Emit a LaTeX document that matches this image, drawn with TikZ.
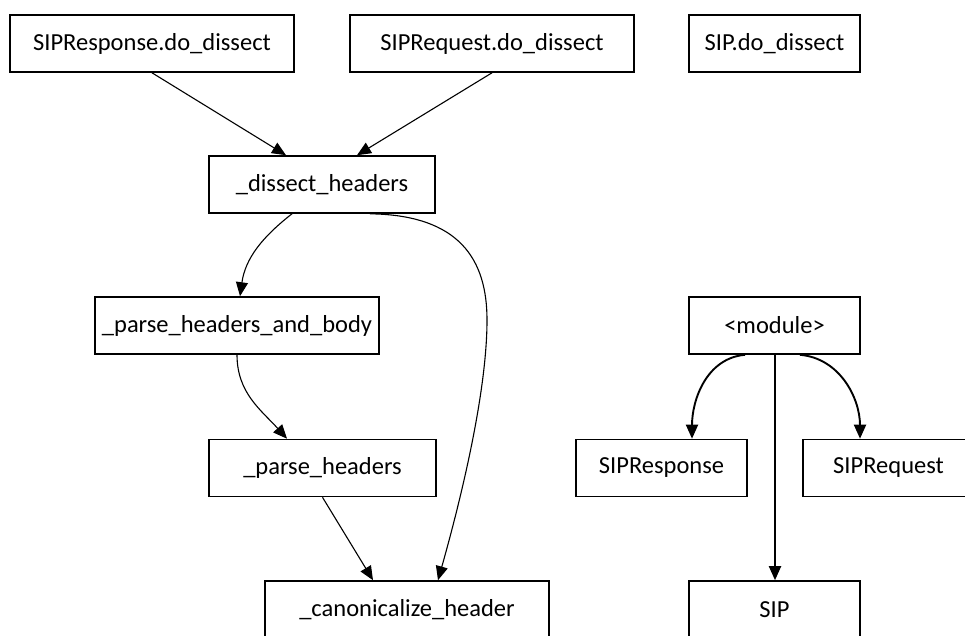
\documentclass[tikz,border=0pt]{standalone}
\usepackage{fontspec}
\setmainfont{Carlito}
\usetikzlibrary{arrows.meta,calc}

\begin{document}
\begin{tikzpicture}[x=1pt,y=-1pt,
  box/.style={draw,line width=1.6pt,rectangle,minimum height=57pt,inner sep=0pt,
              font=\fontsize{24.5}{29}\selectfont},
  edge/.style={line width=1.1pt,-{Triangle[length=14pt,width=12pt]}},
  modedge/.style={line width=1.9pt,-{Triangle[length=14pt,width=12pt]}}]
  \useasboundingbox (0,0) rectangle (965,635);

  % call graph nodes
  \node[box,minimum width=284pt] (srdo)  at (152,43.5)   {SIPResponse.do\_dissect};
  \node[box,minimum width=284pt] (sqdo)  at (492,43.5)   {SIPRequest.do\_dissect};
  \node[box,minimum width=171pt] (sipdo) at (774.5,43.5) {SIP.do\_dissect};
  \node[box,minimum width=226pt] (dh)    at (322,184.5)  {\_dissect\_headers};
  \node[box,minimum width=284pt] (phb)   at (237,325.5)  {\_parse\_headers\_and\_body};
  \node[box,minimum width=227pt] (ph)    at (322.5,468)  {\_parse\_headers};
  \node[box,minimum width=284pt] (ch)    at (407,609.5)  {\_canonicalize\_header};

  % module nodes
  \node[box,minimum width=171pt] (mod)   at (774.5,325.5) {<module>};
  \node[box,minimum width=171pt] (sresp) at (661.5,468)   {SIPResponse};
  \node[box,minimum width=171pt] (sreq)  at (888.5,468)   {SIPRequest};
  \node[box,minimum width=171pt] (sip)   at (774.5,609.5) {SIP};

  % call edges
  \draw[edge] (srdo.south) -- ([xshift=-36pt]dh.north);
  \draw[edge] (sqdo.south) -- ([xshift=35pt]dh.north);
  \draw[edge] ([xshift=-30pt]dh.south) to[out=218,in=82] ([xshift=3pt]phb.north);
  \draw[edge] ([xshift=48pt]dh.south)
      .. controls (460,215) and (487,260) .. (487,320)
      .. controls (487,400) and (455,520) .. ([xshift=31pt]ch.north);
  \draw[edge] (phb.south) to[out=-90,in=132] ([xshift=-35.5pt]ph.north);
  \draw[edge] (ph.south) -- ([xshift=-34pt]ch.north);

  % module edges
  \draw[modedge] ([xshift=-29.5pt]mod.south) to[out=185,in=90] ([xshift=30.5pt]sresp.north);
  \draw[modedge] ([xshift=25.5pt]mod.south) to[out=-5,in=90] ([xshift=-28.5pt]sreq.north);
  \draw[modedge] ([xshift=0.5pt]mod.south) -- ([xshift=0.5pt]sip.north);
\end{tikzpicture}
\end{document}
